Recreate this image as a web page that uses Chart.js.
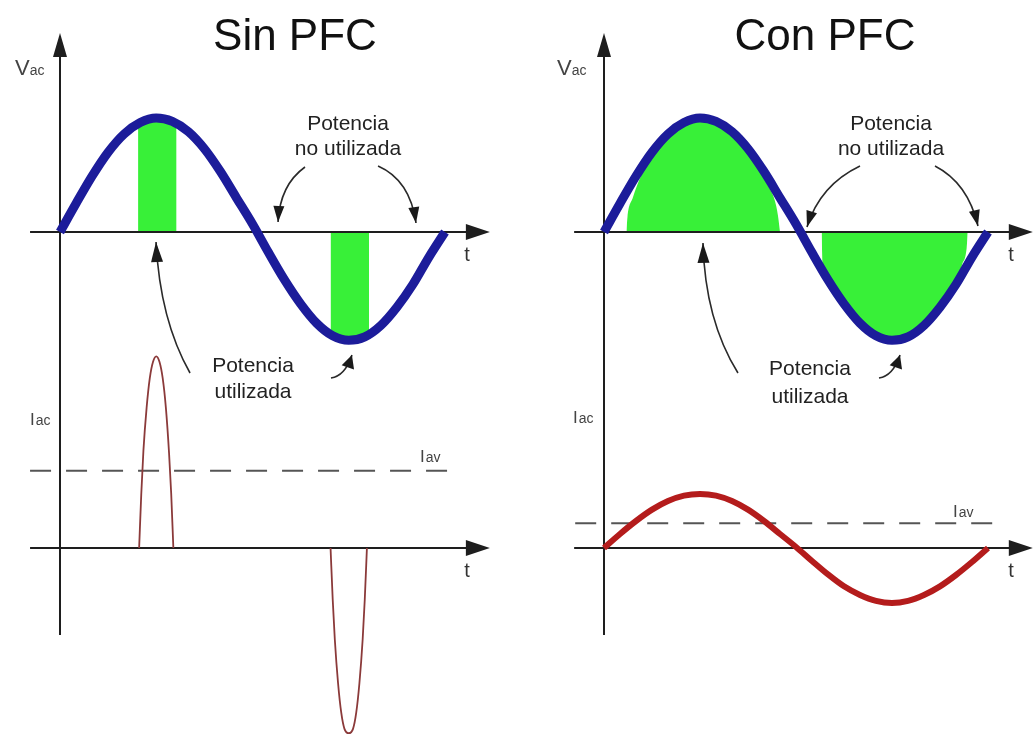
<!DOCTYPE html>
<html><head><meta charset="utf-8">
<script src="https://cdn.jsdelivr.net/npm/chart.js@4/dist/chart.umd.min.js"></script>
<style>html,body{margin:0;padding:0;background:#fff;}canvas{display:block;}</style>
</head><body>
<canvas id="c" width="1034" height="736"></canvas>
<script>
// ---- data (time in degrees of one AC cycle, values in relative units) ----
const tCycle = [0,15,30,45,60,75,90,105,120,135,150,165,180,195,210,225,240,255,270,285,300,315,330,345,360];
const vacSinPFC = [0,0.25,0.49,0.70,0.86,0.96,1.00,0.97,0.88,0.73,0.53,0.30,0.07,-0.18,-0.42,-0.63,-0.80,-0.91,-0.95,-0.92,-0.82,-0.66,-0.46,-0.22,0.0];
const vacConPFC = [0,0.25,0.49,0.70,0.86,0.96,1.00,0.97,0.88,0.73,0.53,0.30,0.07,-0.18,-0.42,-0.63,-0.80,-0.91,-0.95,-0.92,-0.82,-0.66,-0.46,-0.22,0.0];
const iacConPFC = [0,0.26,0.50,0.71,0.87,0.97,1.00,0.97,0.87,0.71,0.50,0.26,0.02,-0.24,-0.49,-0.71,-0.87,-0.98,-1.02,-0.98,-0.87,-0.71,-0.50,-0.26,0];

// current pulses without PFC
const tPulsePos = [74,76,78,81,84,87,90,93,96,99,102,104,106];
const iPulsePos = [0,1.0,1.8,2.6,3.15,3.45,3.55,3.45,3.15,2.6,1.75,1.0,0];
const tPulseNeg = [253,255,257,260,263,266,270,274,277,280,283,285,287];
const iPulseNeg = [0,-0.95,-1.7,-2.5,-3.05,-3.35,-3.43,-3.35,-3.05,-2.5,-1.7,-0.95,0];

// used power areas
const tUsedSin1 = [73,81,90,99,109];
const vUsedSin1 = [0.95,0.98,1.0,0.98,0.93];
const tUsedSin2 = [253,262,271,280,289];
const vUsedSin2 = [-0.90,-0.94,-0.95,-0.94,-0.89];
const tUsedCon1 = [21,22,27,35,45,60,75,90,105,120,135,145,153,160,163,165];
const vUsedCon1 = [0,0.13,0.30,0.50,0.67,0.83,0.93,0.97,0.94,0.85,0.70,0.56,0.42,0.28,0.15,0];
const tUsedCon2 = [204,205,210,225,240,255,270,285,300,315,328,336,340,341];
const vUsedCon2 = [0,-0.30,-0.40,-0.60,-0.77,-0.88,-0.92,-0.89,-0.79,-0.62,-0.44,-0.28,-0.14,0];

// average current levels
const tIavSin = [-28,369];
const iIavSin = [1.43,1.43];
const tIavCon = [-27,373];
const iIavCon = [0.46,0.46];

// ---- helpers ----
const pts = (ts, vs) => ts.map((t, i) => ({x: t, y: vs[i]}));
const GREEN = '#38f038', BLUE = '#1c1c9a', RED = '#b41c1c', PULSE = '#8b3a3a', AX = '#1e1e1e';
const FONT = '"Liberation Sans", Arial, sans-serif';

function fillSet(xid, ts, vs) {
  return {data: pts(ts, vs), xAxisID: xid, yAxisID: 'yV', fill: 'origin', backgroundColor: GREEN,
    borderWidth: 0, pointRadius: 0, cubicInterpolationMode: 'monotone', order: 5, isFill: true, clip: false};
}
function lineSet(xid, yid, ts, vs, color, w, extra) {
  return Object.assign({data: pts(ts, vs), xAxisID: xid, yAxisID: yid, fill: false, borderColor: color,
    borderWidth: w, pointRadius: 0, cubicInterpolationMode: 'monotone', order: 1, clip: false}, extra || {});
}

const datasets = [
  fillSet('xL', tUsedSin1, vUsedSin1),
  fillSet('xL', tUsedSin2, vUsedSin2),
  fillSet('xR', tUsedCon1, vUsedCon1),
  fillSet('xR', tUsedCon2, vUsedCon2),
  lineSet('xL', 'yV', tCycle, vacSinPFC, BLUE, 9),
  lineSet('xR', 'yV', tCycle, vacConPFC, BLUE, 9),
  lineSet('xL', 'yI', tPulsePos, iPulsePos, PULSE, 1.8),
  lineSet('xL', 'yI', tPulseNeg, iPulseNeg, PULSE, 1.8),
  lineSet('xR', 'yI', tCycle, iacConPFC, RED, 6),
  lineSet('xL', 'yI', tIavSin, iIavSin, '#555', 2, {borderDash: [21, 15], cubicInterpolationMode: 'default', tension: 0}),
  lineSet('xR', 'yI', tIavCon, iIavCon, '#555', 2, {borderDash: [21, 15], cubicInterpolationMode: 'default', tension: 0})
];

// annotation layout, in data units of each panel (x: degrees, y: V-scale units)
const panelsCfg = [
  {x: 'xL', title: 'Sin PFC', titleAt: [219.7, 1.596], vacAt: [-42, 1.377], iacAt: [-28, -1.693], iavAt: [336.6, -2.018],
   tAt: [380.6, -0.254, -3.026], potNo: [269.3, 0.895, 0.675], potSi: [180.5, -1.228, -1.456],
   arrows: [
     [[229.1, 0.570], [205.7, 0.412], [203.9, 0.088], 16, 5.5],
     [[297.4, 0.579], [327.3, 0.456], [332.9, 0.079], 16, 5.5],
     [[121.6, -1.237], [93.5, -0.772], [89.8, -0.088], 20, 6],
     [[253.4, -1.281], [266.5, -1.263], [273.0, -1.079], 13, 6.5]
   ]},
  {x: 'xR', title: 'Con PFC', titleAt: [207.2, 1.596], vacAt: [-44.1, 1.377], iacAt: [-29.1, -1.675], iavAt: [327.2, -2.5],
   tAt: [381.6, -0.254, -3.026], potNo: [269.1, 0.895, 0.675], potSi: [193.1, -1.254, -1.5],
   arrows: [
     [[240.0, 0.579], [202.5, 0.412], [190.3, 0.044], 16, 5.5],
     [[310.3, 0.579], [341.2, 0.430], [350.6, 0.053], 16, 5.5],
     [[125.6, -1.237], [94.7, -0.772], [92.8, -0.096], 20, 6],
     [[257.8, -1.281], [270.9, -1.263], [277.5, -1.079], 13, 6.5]
   ]}
];
const axisCfg = {vTop: 1.745, vBottom: -3.535, hFrom: -28, hTo: 402};

function px(chart, xid, t, v, yid) {
  return [chart.scales[xid].getPixelForValue(t), chart.scales[yid || 'yV'].getPixelForValue(v)];
}
function head(ctx, tip, from, len, hw) {
  const a = Math.atan2(tip[1] - from[1], tip[0] - from[0]);
  const bx = tip[0] - len * Math.cos(a), by = tip[1] - len * Math.sin(a);
  ctx.beginPath();
  ctx.moveTo(tip[0], tip[1]);
  ctx.lineTo(bx - hw * Math.sin(a), by + hw * Math.cos(a));
  ctx.lineTo(bx + hw * Math.sin(a), by - hw * Math.cos(a));
  ctx.closePath();
  ctx.fill();
}
function drawAxes(chart) {
  const ctx = chart.ctx;
  ctx.save();
  ctx.strokeStyle = AX; ctx.fillStyle = AX; ctx.lineWidth = 2;
  panelsCfg.forEach(p => {
    const top = px(chart, p.x, 0, axisCfg.vTop), bot = px(chart, p.x, 0, axisCfg.vBottom);
    ctx.beginPath(); ctx.moveTo(top[0], top[1] + 10); ctx.lineTo(bot[0], bot[1]); ctx.stroke();
    head(ctx, top, [top[0], top[1] + 50], 24, 7);
    ['yV', 'yI'].forEach(yid => {
      const a = px(chart, p.x, axisCfg.hFrom, 0, yid), b = px(chart, p.x, axisCfg.hTo, 0, yid);
      ctx.beginPath(); ctx.moveTo(a[0], a[1]); ctx.lineTo(b[0] - 10, b[1]); ctx.stroke();
      head(ctx, b, [b[0] - 50, b[1]], 24, 8);
    });
  });
  ctx.restore();
}
function drawLabels(chart) {
  const ctx = chart.ctx;
  ctx.save();
  ctx.textBaseline = 'alphabetic';
  panelsCfg.forEach(p => {
    // title
    let q = px(chart, p.x, p.titleAt[0], p.titleAt[1]);
    ctx.fillStyle = '#111'; ctx.textAlign = 'center'; ctx.font = '44px ' + FONT;
    ctx.fillText(p.title, q[0], q[1]);
    // Vac
    q = px(chart, p.x, p.vacAt[0], p.vacAt[1]);
    ctx.fillStyle = '#444'; ctx.textAlign = 'left'; ctx.font = '22px ' + FONT;
    ctx.fillText('V', q[0], q[1]);
    let w = ctx.measureText('V').width;
    ctx.font = '14px ' + FONT; ctx.fillText('ac', q[0] + w, q[1]);
    // Iac
    q = px(chart, p.x, p.iacAt[0], p.iacAt[1]);
    ctx.font = '17px ' + FONT; ctx.fillText('I', q[0], q[1]);
    w = ctx.measureText('I').width + 1;
    ctx.font = '14px ' + FONT; ctx.fillText('ac', q[0] + w, q[1]);
    // Iav
    q = px(chart, p.x, p.iavAt[0], p.iavAt[1]);
    ctx.font = '17px ' + FONT; ctx.fillText('I', q[0], q[1]);
    w = ctx.measureText('I').width + 1;
    ctx.font = '14px ' + FONT; ctx.fillText('av', q[0] + w, q[1]);
    // t
    ctx.fillStyle = '#333'; ctx.textAlign = 'center'; ctx.font = '20px ' + FONT;
    q = px(chart, p.x, p.tAt[0], p.tAt[1]); ctx.fillText('t', q[0], q[1]);
    q = px(chart, p.x, p.tAt[0], p.tAt[2]); ctx.fillText('t', q[0], q[1]);
    // Potencia texts
    ctx.fillStyle = '#222'; ctx.font = '21px ' + FONT;
    q = px(chart, p.x, p.potNo[0], p.potNo[1]); ctx.fillText('Potencia', q[0], q[1]);
    q = px(chart, p.x, p.potNo[0], p.potNo[2]); ctx.fillText('no utilizada', q[0], q[1]);
    q = px(chart, p.x, p.potSi[0], p.potSi[1]); ctx.fillText('Potencia', q[0], q[1]);
    q = px(chart, p.x, p.potSi[0], p.potSi[2]); ctx.fillText('utilizada', q[0], q[1]);
    // arrows
    ctx.strokeStyle = '#2a2a2a'; ctx.fillStyle = '#1a1a1a'; ctx.lineWidth = 1.6;
    p.arrows.forEach(a => {
      const s = px(chart, p.x, a[0][0], a[0][1]), c = px(chart, p.x, a[1][0], a[1][1]), e = px(chart, p.x, a[2][0], a[2][1]);
      ctx.beginPath(); ctx.moveTo(s[0], s[1]); ctx.quadraticCurveTo(c[0], c[1], e[0], e[1]); ctx.stroke();
      head(ctx, e, c, a[3], a[4]);
    });
  });
  ctx.restore();
}

const decorPlugin = {
  id: 'decor',
  beforeDatasetsDraw(chart) { chart.$axesDone = false; },
  beforeDatasetDraw(chart, args) {
    if (!chart.$axesDone && !chart.data.datasets[args.index].isFill) { drawAxes(chart); chart.$axesDone = true; }
  },
  afterDatasetsDraw(chart) { if (!chart.$axesDone) { drawAxes(chart); chart.$axesDone = true; } },
  afterDraw(chart) { drawLabels(chart); }
};

new Chart(document.getElementById('c'), {
  type: 'line',
  data: {datasets},
  options: {
    responsive: false, animation: false, events: [],
    layout: {padding: 0},
    plugins: {legend: {display: false}, tooltip: {enabled: false}, title: {display: false}},
    scales: {
      xL: {type: 'linear', display: false, min: -56.105, max: 910.79},
      xR: {type: 'linear', display: false, min: -566.25, max: 403.125},
      yV: {type: 'linear', display: false, min: -4.4211, max: 2.0351},
      yI: {type: 'linear', display: false, min: -3.4815, max: 10.1481}
    }
  },
  plugins: [decorPlugin]
});
</script>
</body></html>
